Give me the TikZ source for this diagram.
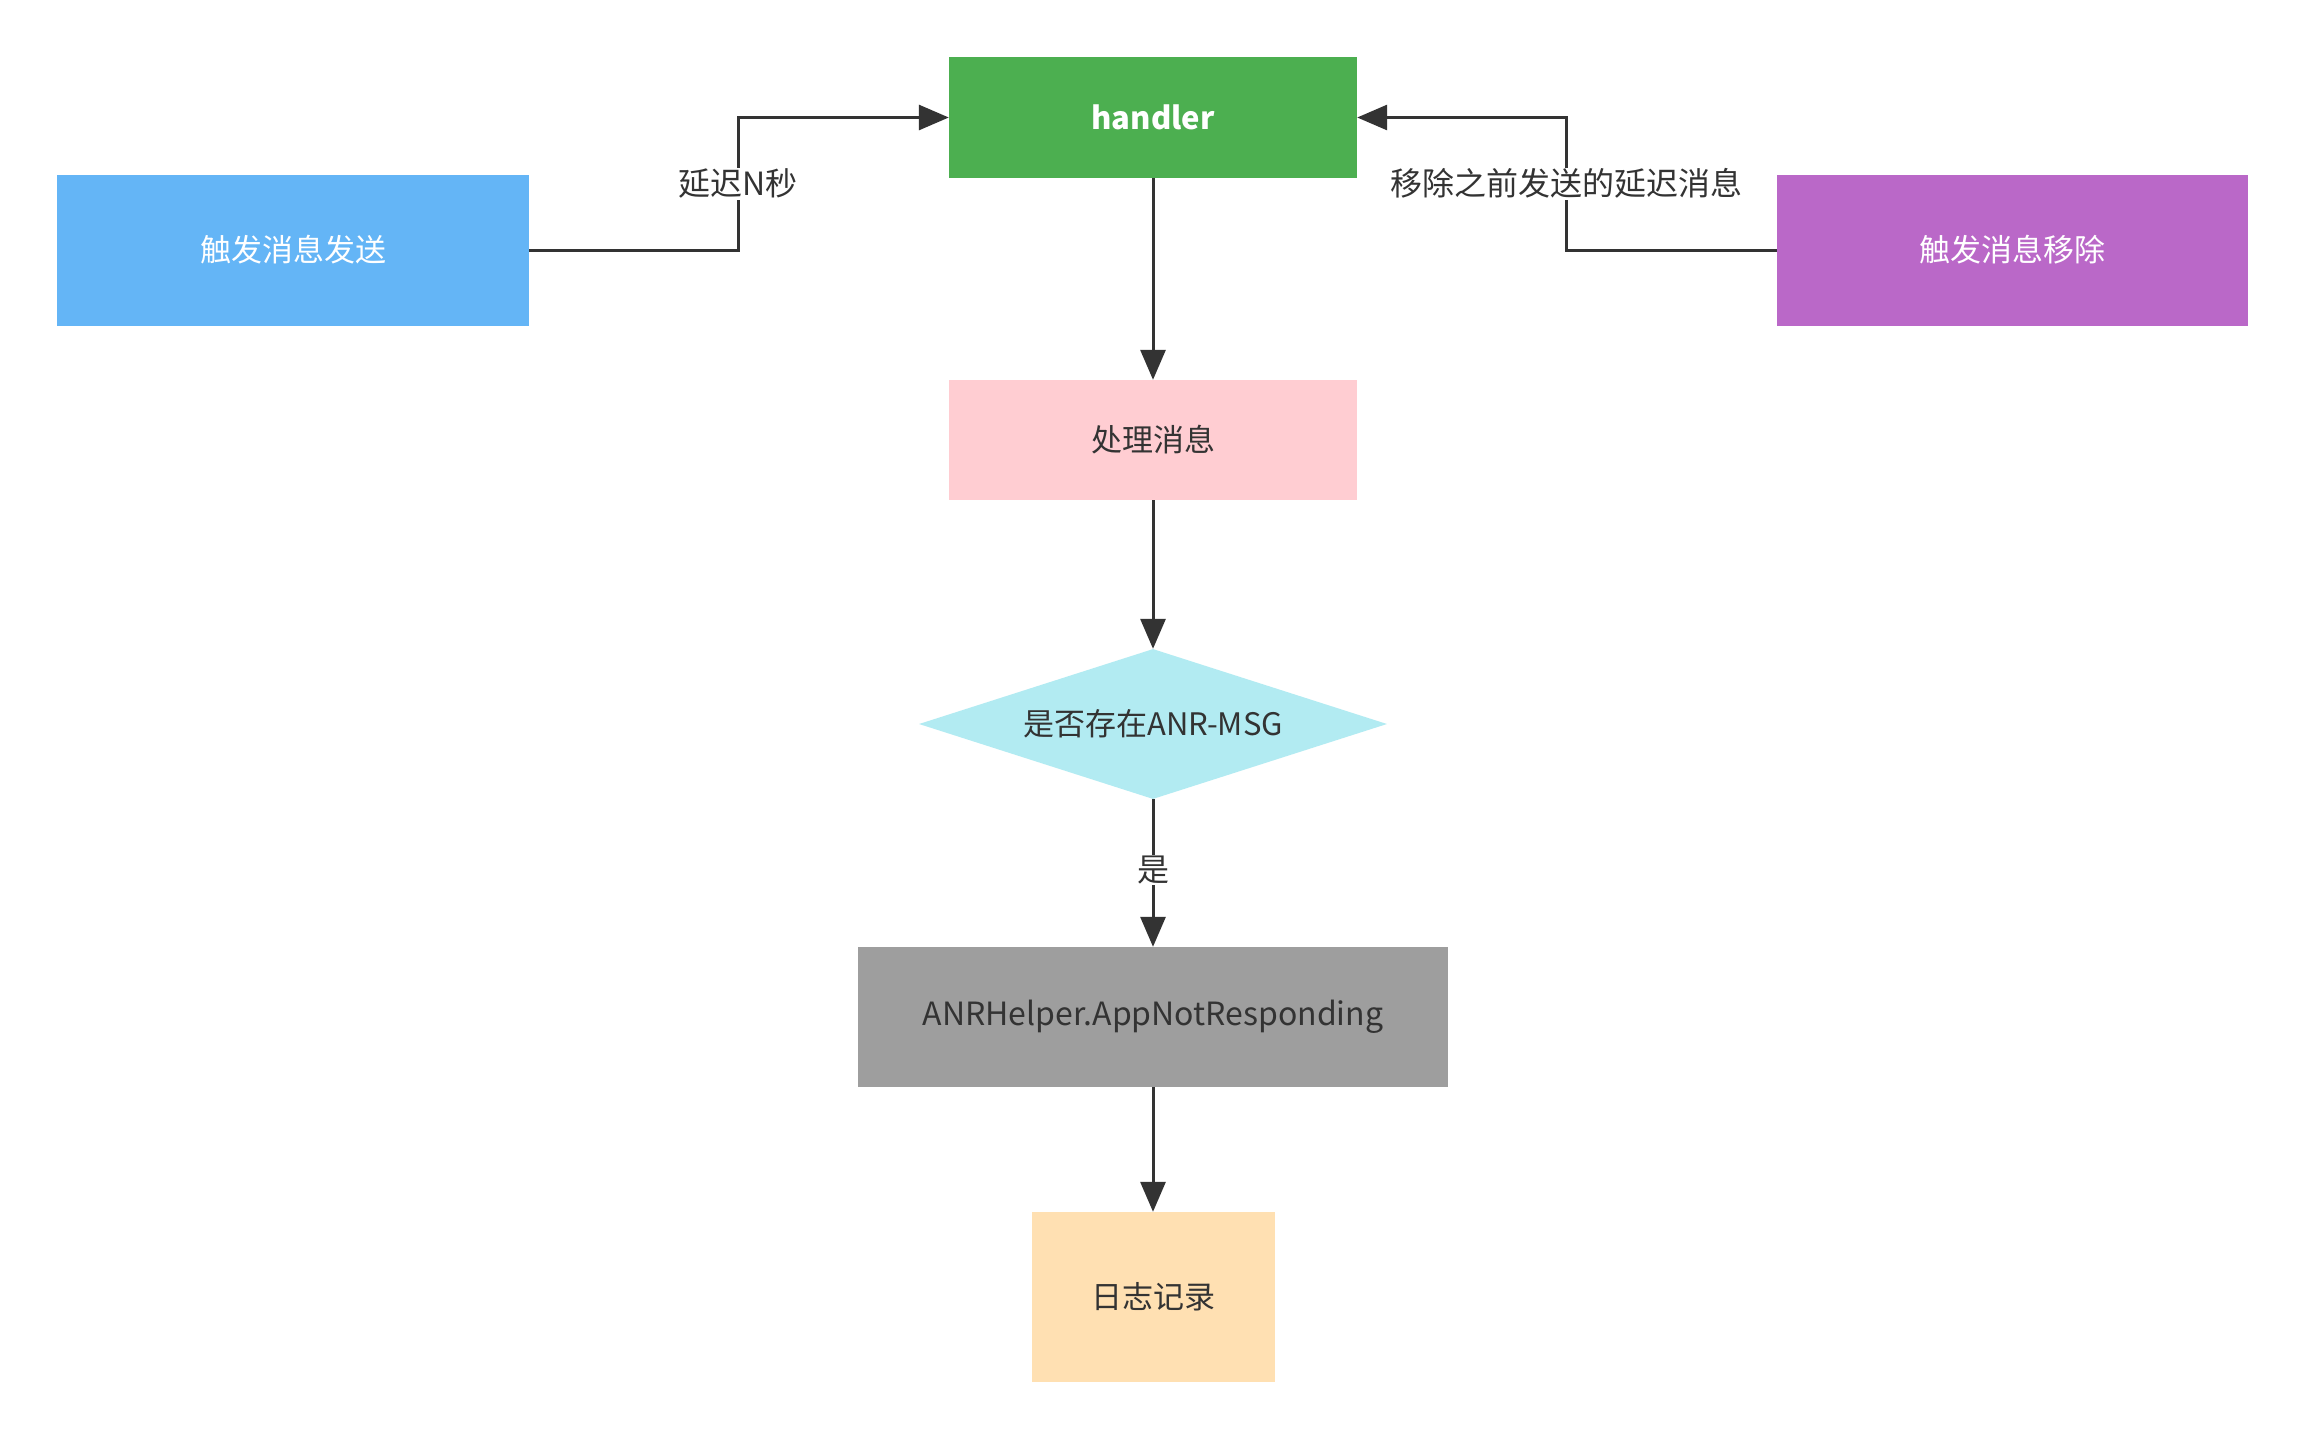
\documentclass[tikz,border=0pt]{standalone}
\usepackage{fontspec}
\setmainfont{Noto Sans CJK SC}
\usetikzlibrary{arrows.meta,shapes.geometric}
\definecolor{cgreen}{HTML}{4CAF50}
\definecolor{cblue}{HTML}{64B5F6}
\definecolor{cpurple}{HTML}{BA68C8}
\definecolor{cpink}{HTML}{FFCDD2}
\definecolor{ccyan}{HTML}{B2EBF2}
\definecolor{cgray}{HTML}{9E9E9E}
\definecolor{corange}{HTML}{FFE0B2}
\definecolor{ctext}{HTML}{333333}
\tikzset{
  box/.style={rectangle, draw=none, inner sep=0pt, text=ctext, font=\fontsize{31}{37}\selectfont},
  conn/.style={draw=ctext, line width=3pt, -{Triangle[length=30pt,width=25pt]}},
  lbl/.style={fill=white, text=ctext, inner sep=1pt, font=\fontsize{32}{38}\selectfont},
}
\begin{document}
\begin{tikzpicture}[x=1pt,y=-1pt]
\useasboundingbox[fill=white] (0,0) rectangle (2307,1440);
\node[box, fill=cgreen, minimum width=408pt, minimum height=121pt, text=white, font=\fontsize{31}{37}\selectfont\bfseries] (handler) at (1153,117.5) {handler};
\node[box, fill=cblue, minimum width=472pt, minimum height=151pt, text=white] (send) at (293,250) {触发消息发送};
\node[box, fill=cpurple, minimum width=471pt, minimum height=151pt, text=white] (remove) at (2012.5,250) {触发消息移除};
\node[box, fill=cpink, minimum width=408pt, minimum height=120pt] (proc) at (1153,440) {处理消息};
\node[box, diamond, aspect=3.12, fill=ccyan, minimum width=468pt, minimum height=150pt] (check) at (1153,724) {是否存在ANR-MSG};
\node[box, fill=cgray, minimum width=590pt, minimum height=140pt, font=\fontsize{32}{38}\selectfont] (anr) at (1153,1017) {ANRHelper.AppNotResponding};
\node[box, fill=corange, minimum width=243pt, minimum height=170pt] (log) at (1153,1297) {日志记录};

\draw[conn] (send.east) -- ++(209,0) |- (handler.west) node[lbl, pos=0.25] {延迟N秒};
\draw[conn] (remove.west) -- ++(-210,0) |- (handler.east) node[lbl, pos=0.25] {移除之前发送的延迟消息};
\draw[conn] (handler.south) -- (proc.north);
\draw[conn] (proc.south) -- (check.north);
\draw[conn] (check.south) -- (anr.north) node[lbl, pos=0.48] {是};
\draw[conn] (anr.south) -- (log.north);
\end{tikzpicture}
\end{document}
